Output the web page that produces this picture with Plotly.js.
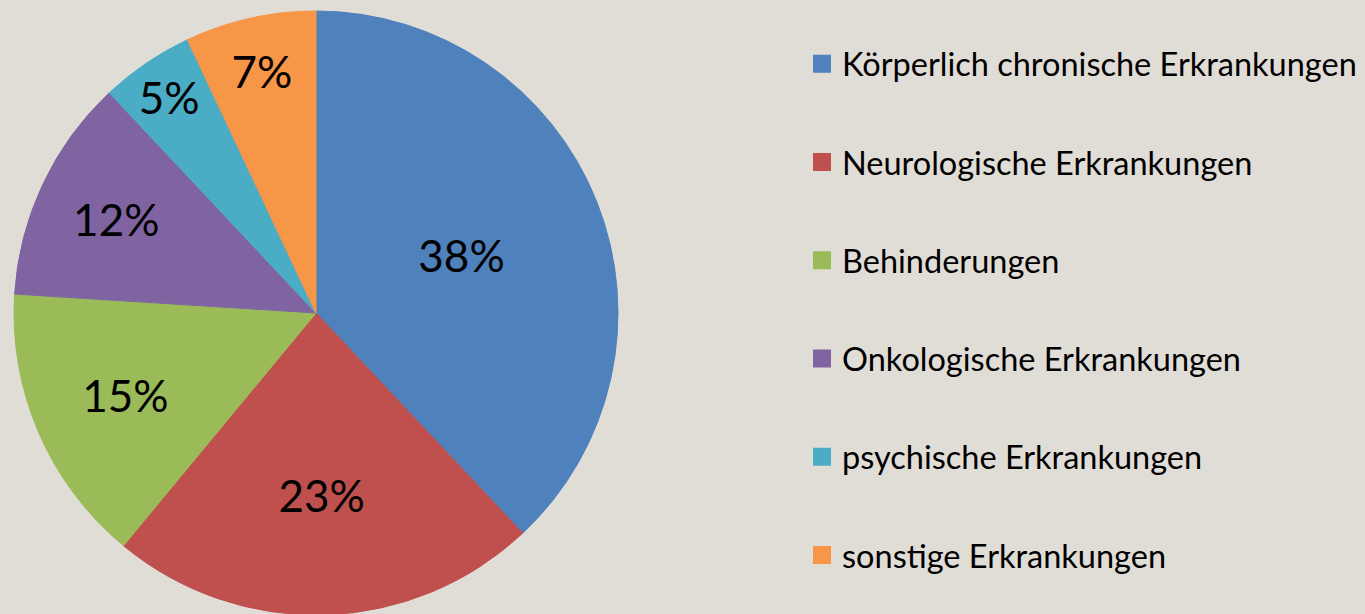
<!DOCTYPE html>
<html>
<head>
<meta charset="utf-8">
<script src="https://cdn.plot.ly/plotly-3.0.1.min.js"></script>
<style>
html, body { margin: 0; padding: 0; background: #e0dcd6; overflow: hidden; }
#chart { width: 1365px; height: 626px; }
</style>
</head>
<body>
<div id="chart"></div>
<script>
const categories = [
  "Körperlich chronische Erkrankungen",
  "Neurologische Erkrankungen",
  "Behinderungen",
  "Onkologische Erkrankungen",
  "psychische Erkrankungen",
  "sonstige Erkrankungen"
];
const shares = [38, 23, 15, 12, 5, 7];
const colors = ["#4f81bd", "#c0504d", "#9bbb59", "#8064a2", "#4bacc6", "#f79646"];

const W = 1365, H = 626;
const pie = {
  type: "pie",
  labels: categories,
  values: shares,
  sort: false,
  direction: "clockwise",
  rotation: 0,
  showlegend: false,
  marker: { colors: colors, line: { color: colors, width: 1 } },
  texttemplate: "%{value}%",
  textposition: "inside",
  insidetextorientation: "horizontal",
  textfont: { family: "Lato, sans-serif", size: 44, color: "#000000" },
  hoverinfo: "none",
  domain: { x: [14 / W, 618 / W], y: [1 - 615 / H, 1 - 11 / H] }
};

// Legend entries (no visible marks): one per category, each in its own group
const legendTraces = categories.map((name, i) => ({
  type: "scatter",
  mode: "markers",
  x: [null],
  y: [null],
  name: name,
  legendgroup: "g" + i,
  showlegend: true,
  hoverinfo: "none",
  marker: { symbol: "square", size: 16, color: colors[i], line: { color: colors[i], width: 2 } }
}));

const layout = {
  width: W,
  height: H,
  margin: { l: 0, r: 0, t: 0, b: 0 },
  paper_bgcolor: "#e0dcd6",
  plot_bgcolor: "rgba(0,0,0,0)",
  showlegend: true,
  uniformtext: { mode: "show", minsize: 44 },
  xaxis: { visible: false, domain: [0.99, 1] },
  yaxis: { visible: false, domain: [0.99, 1] },
  legend: {
    x: 802 / W,
    xanchor: "left",
    y: 1 - 36 / H,
    yanchor: "top",
    traceorder: "grouped",
    tracegroupgap: 53,
    font: { family: "Lato, sans-serif", size: 32.5, color: "#000000" },
    bgcolor: "rgba(0,0,0,0)"
  }
};

Plotly.newPlot("chart", [pie].concat(legendTraces), layout, { displayModeBar: false, staticPlot: true });
</script>
</body>
</html>
